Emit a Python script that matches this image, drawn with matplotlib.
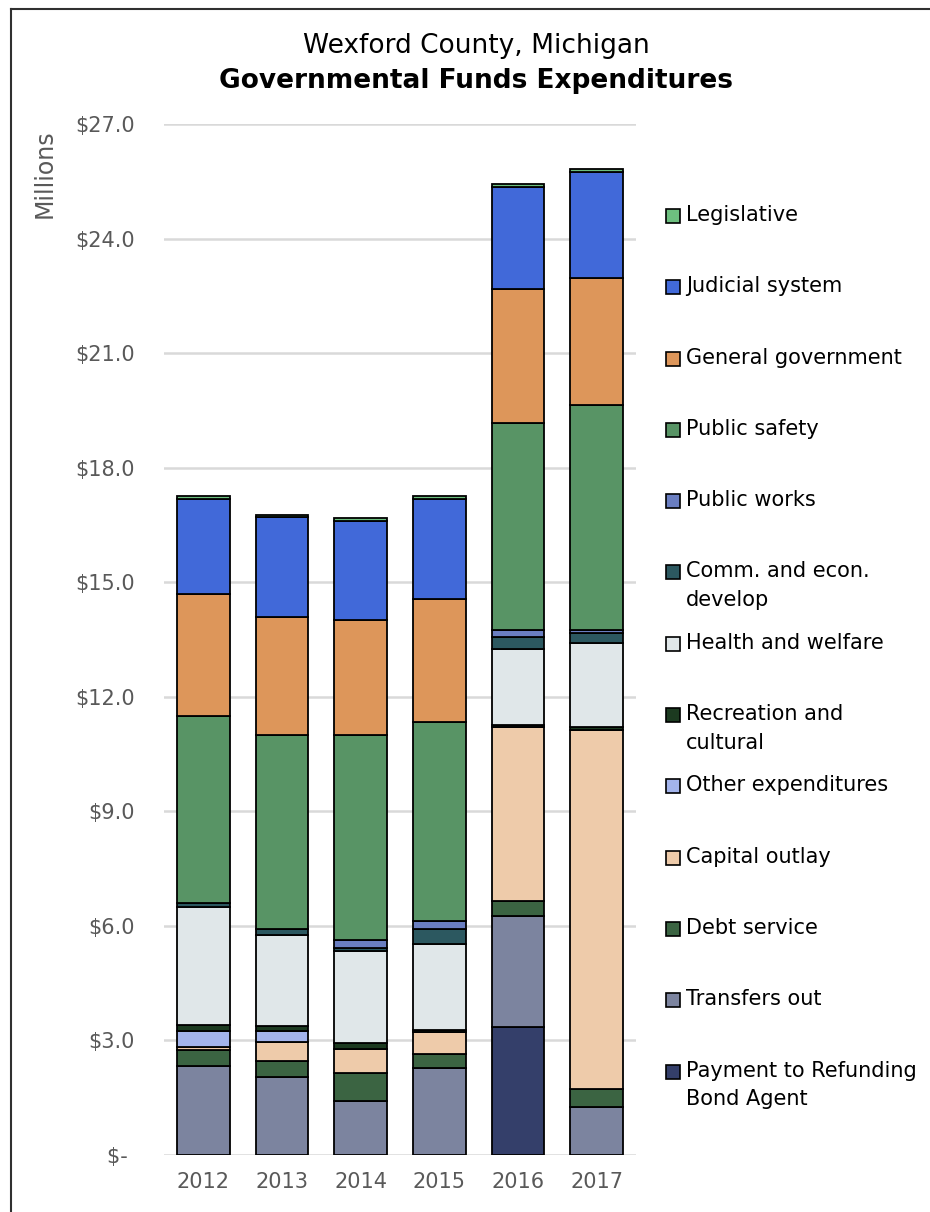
import matplotlib
matplotlib.use('Agg')
import numpy as np
import matplotlib.pyplot as plt
from matplotlib.patches import Rectangle
from matplotlib.lines import Line2D

years = ['2012', '2013', '2014', '2015', '2016', '2017']

# $ millions, stacked bottom -> top
payment_refunding = [0.0, 0.0, 0.0, 0.0, 3.34, 0.0]
transfers_out = [2.33, 2.05, 1.42, 2.27, 2.93, 1.25]
debt_service = [0.43, 0.40, 0.72, 0.37, 0.37, 0.49]
capital_outlay = [0.06, 0.51, 0.64, 0.57, 4.56, 9.39]
other_expend = [0.43, 0.29, 0.0, 0.0, 0.0, 0.0]
recreation = [0.16, 0.14, 0.14, 0.06, 0.07, 0.08]
health_welfare = [3.09, 2.37, 2.41, 2.25, 1.99, 2.21]
comm_econ = [0.11, 0.17, 0.09, 0.39, 0.31, 0.26]
public_works = [0.0, 0.0, 0.20, 0.23, 0.17, 0.07]
public_safety = [4.89, 5.08, 5.39, 5.21, 5.42, 5.90]
general_gov = [3.20, 3.09, 3.01, 3.22, 3.53, 3.33]
judicial = [2.49, 2.60, 2.59, 2.62, 2.67, 2.77]
legislative = [0.07, 0.06, 0.06, 0.07, 0.08, 0.07]

series = [
    ('Payment to Refunding\nBond Agent', payment_refunding, '#343f6a'),
    ('Transfers out', transfers_out, '#7c849f'),
    ('Debt service', debt_service, '#3b6442'),
    ('Capital outlay', capital_outlay, '#eecbaa'),
    ('Other expenditures', other_expend, '#a3b4ec'),
    ('Recreation and\ncultural', recreation, '#1c3a20'),
    ('Health and welfare', health_welfare, '#e0e7e9'),
    ('Comm. and econ.\ndevelop', comm_econ, '#2c5860'),
    ('Public works', public_works, '#6a7ec1'),
    ('Public safety', public_safety, '#589465'),
    ('General government', general_gov, '#dd965a'),
    ('Judicial system', judicial, '#4169d9'),
    ('Legislative', legislative, '#6dbf7f'),
]

W, H = 930, 1212
fig = plt.figure(figsize=(W / 100, H / 100), dpi=100)
ax = fig.add_axes([164 / W, 1 - 1155 / H, (636 - 164) / W, (1155 - 124) / H])

x = np.arange(len(years))
bottom = np.zeros(len(years))
for name, vals, col in series:
    vals = np.array(vals)
    ax.bar(x, vals, 0.67, bottom=bottom, color=col, edgecolor='black',
           linewidth=1.3, zorder=3)
    bottom += vals

ax.set_xlim(-0.5, len(years) - 0.5)
ax.set_ylim(0, 27)
ax.set_yticks(np.arange(0, 28, 3))
ax.set_yticklabels(['$- '] + ['$%.1f' % v for v in np.arange(3, 28, 3)])
ax.set_xticks(x)
ax.set_xticklabels(years)
ax.tick_params(length=0, labelsize=15, labelcolor='#595959')
ax.tick_params(axis='y', pad=21)
ax.tick_params(axis='x', pad=12)
ax.grid(axis='y', color='#d9d9d9', linewidth=1.8, zorder=0)
for s in ax.spines.values():
    s.set_visible(False)

fig.text(45 / W, 1 - 129 / H, 'Millions', rotation=90, ha='center', va='top',
         fontsize=17, color='#595959')

fig.text(476 / W, 1 - 46 / H, 'Wexford County, Michigan', ha='center',
         va='center', fontsize=19)
fig.text(476 / W, 1 - 81 / H, 'Governmental Funds Expenditures', ha='center',
         va='center', fontsize=19, fontweight='bold')

# legend, drawn top -> bottom
first_y = 216
step = 71.3
for i, (name, vals, col) in enumerate(series[::-1]):
    yc = first_y + i * step
    fig.add_artist(Rectangle((666 / W, 1 - (yc + 7) / H), 14 / W, 14 / H,
                             transform=fig.transFigure, facecolor=col,
                             edgecolor='black', linewidth=1.2))
    fig.text(686 / W, 1 - (yc - 11) / H, name, ha='left', va='top',
             fontsize=15, linespacing=1.55)

# outer frame (cropped at right and bottom)
fig.add_artist(Line2D([11 / W, 11 / W], [0, 1 - 9 / H], transform=fig.transFigure,
                      color='#303030', linewidth=1.5))
fig.add_artist(Line2D([11 / W, 1], [1 - 9 / H, 1 - 9 / H], transform=fig.transFigure,
                      color='#303030', linewidth=1.5))

fig.savefig('out.png', dpi=100)
